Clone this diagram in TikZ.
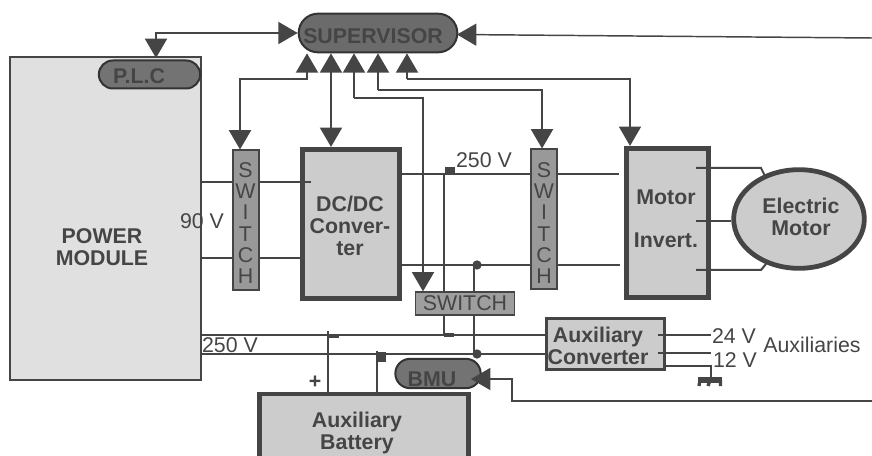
\documentclass[tikz,border=0pt]{standalone}
\usepackage{fontspec}
\setmainfont{Liberation Sans}
\usetikzlibrary{arrows.meta,shapes.misc,shapes.geometric}
\definecolor{ink}{gray}{0.27}
\tikzset{
  lab/.style={text=ink,font=\fontsize{16pt}{16.5pt}\selectfont,inner sep=0pt,align=center},
  blab/.style={lab,font=\fontsize{16pt}{16.5pt}\selectfont\bfseries},
  block/.style={draw=ink,fill=black!20,line width=3.6pt,inner sep=0pt},
  vswitch/.style={draw=ink,fill=black!40,line width=1.5pt,inner sep=0pt,
     minimum width=19.5pt,minimum height=105pt},
  vtext/.style={lab,font=\fontsize{16pt}{16pt}\selectfont},
  pill/.style={rounded rectangle,draw=black!80,fill=black!55,line width=1.5pt,inner sep=0pt},
  wire/.style={draw=ink,line width=1.5pt},
  thinwire/.style={draw=ink,line width=1.1pt},
  head/.style={-{Triangle[width=16.5pt,length=14.5pt]}},
  headboth/.style={{Triangle[width=16.5pt,length=14.5pt]}-{Triangle[width=16.5pt,length=14.5pt]}},
  blob/.style={fill=ink,inner sep=0pt,minimum size=6pt},
  round blob/.style={circle,fill=ink,inner sep=0pt,minimum size=7pt},
}
\begin{document}
\begin{tikzpicture}[x=0.75pt,y=-0.75pt]
\clip (0,0) rectangle (872,456);
% blocks
\node[draw=ink,fill=black!12,line width=1.8pt,minimum width=143pt,minimum height=242pt,inner sep=0pt] (pm) at (105.5,218.5) {};
\node[blab] (pmt) at (102,247) {POWER\\MODULE};
\node[pill,minimum width=76pt,minimum height=21pt] (plc) at (149.5,74.5) {};
\node[blab] (plct) at (139,76) {P.L.C};
\node[pill,fill=black!58,minimum width=119pt,minimum height=29pt] (sup) at (378,33) {};
\node[blab] (supt) at (373,36) {SUPERVISOR};
\node[vswitch] (swa) at (245.5,220.5) {};
\node[vtext] (swat) at (245.5,223) {S\\W\\I\\T\\C\\H};
\node[block,minimum width=73pt,minimum height=112pt] (dc) at (351,224) {};
\node[blab] (dct) at (350,226) {DC/DC\\Conver-\\ter};
\node[vswitch] (swb) at (543.5,219.5) {};
\node[vtext] (swbt) at (544,223) {S\\W\\I\\T\\C\\H};
\node[block,minimum width=61pt,minimum height=112pt] (mi) at (667.5,223) {};
\node[blab] (mia) at (666,197) {Motor};
\node[blab] (mib) at (666,240) {Invert.};
\node[block,ellipse,minimum width=98pt,minimum height=74pt] (em) at (799,219) {};
\node[blab] (emt) at (801,217) {Electric\\Motor};
\node[draw=ink,fill=black!38,line width=1.2pt,inner sep=0pt,minimum width=74pt,minimum height=17pt,text=ink,font=\fontsize{16pt}{16.5pt}\selectfont] (swc) at (465,303.5) {SWITCH};
\node[block,line width=2.4pt,minimum width=88pt,minimum height=38pt] (aux) at (605.5,344) {};
\node[blab] (auxt) at (598,346) {Auxiliary\\Converter};
\node[block,line width=3.4pt,minimum width=157pt,minimum height=60pt] (bat) at (364,434) {};
\node[blab] (batt) at (357,433) {Auxiliary\\Battery};
\node[pill,minimum width=64pt,minimum height=22pt] (bmu) at (438,373.5) {};
\node[blab] (bmut) at (432,379) {BMU};
% texts
\node[lab] (v90) at (202,221) {90 V};
\node[lab] (v250a) at (484,160) {250 V};
\node[lab] (v250b) at (230,345) {250 V};
\node[lab] (v24) at (734,336) {24 V};
\node[lab] (v12) at (735,360) {12 V};
\node[lab] (auxs) at (812,345) {Auxiliaries};
\node[blab] (plus) at (315,382) {+};
% supervisor links
\draw[wire,headboth] (sup.west) -- (156,33) -- (156,58);
\draw[thinwire,head] (872,38) -- (457,34.5);
\draw[wire,headboth] (307,0 |- sup.south) -- (307,79) -- (240,79) -- (240,0 |- swa.north);
\draw[wire,headboth] (331,0 |- sup.south) -- (331,0 |- dc.north);
\draw[wire,head] (354,98) -- (354,0 |- sup.south);
\draw[wire,head] (354,98) -- (423,98) -- (423,0 |- swc.north);
\draw[wire,head] (378,90) -- (378,0 |- sup.south);
\draw[wire,head] (378,90) -- (542,90) -- (542,0 |- swb.north);
\draw[wire,head] (407,79) -- (407,0 |- sup.south);
\draw[thinwire,head] (407,79) -- (630,79) -- (630,0 |- mi.north);
% power lines
\draw[wire] (pm.east |- 0,182) -- (swa.west |- 0,182);
\draw[wire] (swa.east |- 0,182) -- (311,182);
\draw[wire] (pm.east |- 0,258) -- (swa.west |- 0,258);
\draw[wire] (swa.east |- 0,258) -- (dc.west |- 0,258);
\draw[wire] (dc.east |- 0,174) -- (swb.west |- 0,174);
\draw[wire] (swb.east |- 0,174) -- (619,174);
\draw[wire] (dc.east |- 0,265) -- (swb.west |- 0,265);
\draw[wire] (swb.east |- 0,265) -- (620,265);
\draw[wire] (444,174) -- (444,0 |- swc.north);
\draw[wire] (444,0 |- swc.south) -- (444,335);
\node[blob,minimum width=7pt,minimum height=5pt] (stuba) at (450,170) {};
\draw[wire] (474,265) -- (474,0 |- swc.north);
\draw[wire] (474,0 |- swc.south) -- (474,353);
\node[round blob] (dota) at (477,265) {};
\node[round blob] (dotb) at (477,354) {};
\node[blob,minimum width=8pt,minimum height=3pt] (stubb) at (449,335) {};
\draw[wire] (pm.east |- 0,335) -- (aux.west |- 0,335);
\draw[wire] (pm.east |- 0,354) -- (aux.west |- 0,354);
% battery
\draw[wire] (328,331) -- (328,0 |- bat.north);
\node[blob,minimum width=8pt,minimum height=3pt] (stubc) at (334,336) {};
\draw[wire] (377,351) -- (377,0 |- bat.north);
\node[blob,minimum width=7pt,minimum height=7pt] (stubd) at (381,357) {};
% motor
\draw[wire] (696,168) -- (761,168) -- (766,178);
\draw[wire] (696,221) -- (em.west |- 0,221);
\draw[wire] (696,270) -- (761,270) -- (766,264);
% auxiliary outputs
\draw[wire] (658,335) -- (711,335);
\draw[wire] (658,353) -- (711,353);
\draw[wire] (aux.east |- 0,366) -- (711,366) -- (711,378);
\node[blob,minimum width=18pt,minimum height=4pt] (gnd) at (710,380) {};
\draw[line width=2.5pt,ink] (700,380) -- (699,386) (710,380) -- (708,386) (720.5,380) -- (720.5,386);
% BMU link
\draw[thinwire,head] (872,401) -- (512,401) -- (512,379) -- (471,379);
\end{tikzpicture}
\end{document}
